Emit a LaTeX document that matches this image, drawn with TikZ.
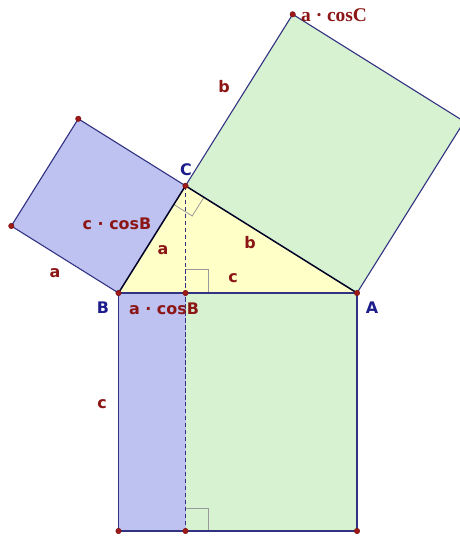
\documentclass[tikz,border=0pt]{standalone}
\usepackage{fontspec}
\setmainfont{DejaVu Sans}
\newfontfamily\serifbold{Liberation Serif}
\begin{document}
\begin{tikzpicture}[x=1bp,y=-1bp,
  lbl/.style={text=labred,font=\bfseries\fontsize{16}{16}\selectfont,inner sep=0pt},
  vlbl/.style={text=labblue,font=\bfseries\fontsize{16}{16}\selectfont,inner sep=0pt},
  edge/.style={draw=edgeblue,line width=1.1pt},
  tri/.style={draw=black!85!blue,line width=1.5pt},
  ramark/.style={draw=black!40,line width=0.8pt},
  dot/.style={circle,fill=dotred,draw=dotred!70!black,inner sep=0pt,minimum size=5.5bp}]
\definecolor{labred}{RGB}{140,22,22}
\definecolor{labblue}{RGB}{28,28,140}
\definecolor{edgeblue}{RGB}{50,50,130}
\definecolor{dotred}{RGB}{160,25,25}
\definecolor{sqblue}{RGB}{190,194,240}
\definecolor{sqgreen}{RGB}{214,242,208}
\definecolor{triyellow}{RGB}{255,255,200}
\useasboundingbox (0,0) rectangle (460,536);
\clip (0,0) rectangle (460,536);
% vertices
\coordinate (B) at (118.5,293);
\coordinate (A) at (357,293);
\coordinate (C) at (185.5,185.8);
\coordinate (D) at (185.5,293);
\coordinate (P1) at (11.3,226);
\coordinate (P2) at (78.3,118.8);
\coordinate (Q1) at (292.7,14.3);
\coordinate (Q2) at (464.2,121.5);
\coordinate (E) at (118.5,531);
\coordinate (F) at (185.5,531);
\coordinate (G) at (357,531);
% fills
\fill[sqblue] (B) -- (P1) -- (P2) -- (C) -- cycle;
\fill[sqgreen] (C) -- (Q1) -- (Q2) -- (A) -- cycle;
\fill[triyellow] (A) -- (B) -- (C) -- cycle;
\fill[sqblue] (B) -- (D) -- (F) -- (E) -- cycle;
\fill[sqgreen] (D) -- (A) -- (G) -- (F) -- cycle;
% right-angle marks
\draw[ramark] (173.8,204.4) -- (192.2,216.0) -- (203.8,197.5);
\draw[ramark] (185.5,269) -- (208.5,269) -- (208.5,293);
\draw[ramark] (185.5,508) -- (208,508) -- (208,531);
% square edges
\draw[edge] (B) -- (P1) -- (P2) -- (C);
\draw[edge] (C) -- (Q1) -- (Q2) -- (A);
\draw[edge] (B) -- (E) -- (F) -- (G) -- (A);
% triangle
\draw[tri] (B) -- (C) -- (A);
\draw[draw=edgeblue,line width=1.3pt] (B) -- (A);
% altitude
\draw[edgeblue,line width=1.3pt,dash pattern=on 4.5pt off 2.5pt] (C) -- (D) -- (F);
% dots
\foreach \p in {A,B,C,D,P1,P2,Q1,E,F,G} \node[dot] at (\p) {};
% labels
\node[lbl,anchor=west,font=\serifbold\bfseries\fontsize{19.5}{19.5}\selectfont] (lq) at (301,15) {a · cosC};
\node[lbl] (lb1) at (224,87) {b};
\node[vlbl] (lC) at (186,170) {C};
\node[lbl] (lccb) at (117,224) {c · cosB};
\node[lbl] (la1) at (163,250) {a};
\node[lbl] (lb2) at (250,243) {b};
\node[lbl] (lc1) at (233,278) {c};
\node[lbl] (la2) at (55,273) {a};
\node[vlbl] (lB) at (103,308) {B};
\node[lbl] (lacb) at (164,309) {a · cosB};
\node[vlbl] (lA) at (372,308) {A};
\node[lbl] (lc2) at (102,404) {c};
\end{tikzpicture}
\end{document}
